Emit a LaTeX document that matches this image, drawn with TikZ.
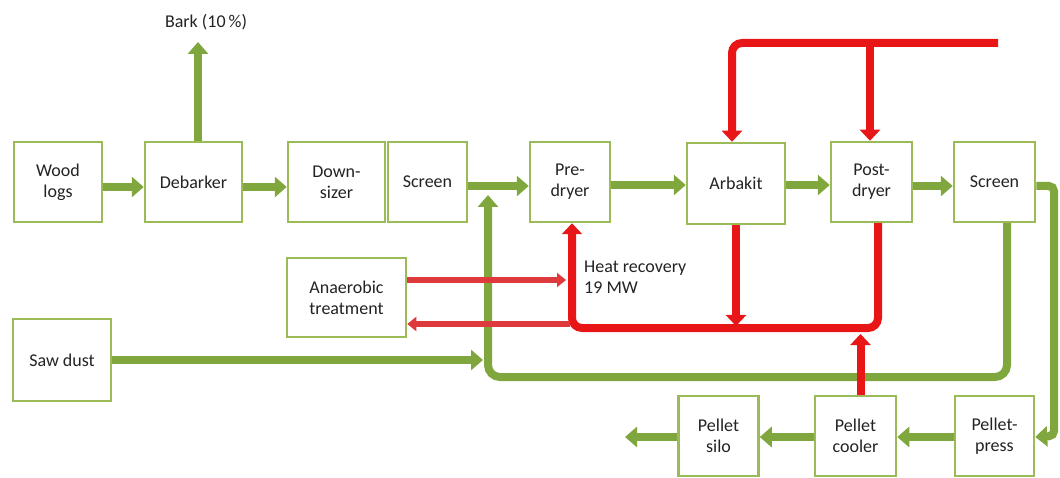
\documentclass[tikz,border=0pt]{standalone}
\usepackage{fontspec}
\setmainfont{Carlito}
\usetikzlibrary{arrows.meta}
\definecolor{boxgreen}{RGB}{155,187,89}
\definecolor{agreen}{RGB}{128,166,62}
\definecolor{hred}{RGB}{232,22,22}
\definecolor{lred}{RGB}{222,58,62}
\definecolor{txt}{RGB}{35,35,35}
\tikzset{
  box/.style={draw=boxgreen, line width=2.5pt, fill=white, align=center, text=txt,
    font=\fontsize{18pt}{21pt}\selectfont, inner sep=0pt},
  garrow/.style={draw=agreen, line width=8pt, -{Triangle[width=20pt,length=12pt]}},
  rarrow/.style={draw=hred, line width=8pt, -{Triangle[width=20pt,length=11pt]}},
  larrow/.style={draw=lred, line width=6pt, -{Triangle[width=14pt,length=9pt]}},
  lbl/.style={text=txt, font=\fontsize{18pt}{21pt}\selectfont, inner sep=0pt}
}
\begin{document}
\begin{tikzpicture}[x=1pt,y=-1pt]
\useasboundingbox (0,0) rectangle (1060,478);
% boxes
\node[box, minimum width=88pt, minimum height=80pt] (wood) at (58,182) {Wood\\logs};
\node[box, minimum width=97pt, minimum height=80pt] (debarker) at (193.5,182) {Debarker};
\node[box, minimum width=97pt, minimum height=80pt] (downsizer) at (336.5,182) {Down-\\sizer};
\node[box, minimum width=79pt, minimum height=80pt] (screen1) at (427.5,182) {Screen};
\node[box, minimum width=80pt, minimum height=80pt] (predryer) at (570,182) {Pre-\\dryer};
\node[box, minimum width=98pt, minimum height=81pt] (arbakit) at (736,183.5) {Arbakit};
\node[box, minimum width=81pt, minimum height=80pt] (postdryer) at (871.5,182) {Post-\\dryer};
\node[box, minimum width=81pt, minimum height=80pt] (screen2) at (994.5,182) {Screen};
\node[box, minimum width=119pt, minimum height=79pt] (anaerobic) at (346.5,297.5) {Anaerobic\\treatment};
\node[box, minimum width=98pt, minimum height=82pt] (sawdust) at (62,360) {Saw dust};
\node[box, minimum width=80pt, minimum height=80pt] (silo) at (718.5,436) {Pellet\\silo};
\node[box, minimum width=81pt, minimum height=80pt] (cooler) at (855.5,436) {Pellet\\cooler};
\node[box, minimum width=79pt, minimum height=80pt] (press) at (994.5,436) {Pellet-\\press};
% labels
\node[lbl] (bark) at (206,22) {Bark (10\,\%)};
\node[lbl, anchor=west, align=left] (heat) at (584,277) {Heat recovery\\19 MW};
% free-end coordinates
\coordinate (barktip) at (198,42);
\coordinate (gtip) at (488,195);
\coordinate (gb) at (0,377);
\coordinate (sdtip) at (483,360);
\coordinate (rc) at (1054,0);
\coordinate (out) at (625,437);
\coordinate (rtop) at (998,43);
\coordinate (rb) at (0,328);
\coordinate (arbtip) at (0,326);
\coordinate (cooltip) at (0,334);
\coordinate (hr1) at (566,280);
\coordinate (hr2) at (570,324);
% green flows
\draw[garrow] ([yshift=-5pt]wood.east) -- ([yshift=-5pt]debarker.west);
\draw[garrow] ([xshift=4.5pt]debarker.north) -- ([xshift=4.5pt]debarker.north |- barktip);
\draw[garrow] ([yshift=-5pt]debarker.east) -- ([yshift=-5pt]downsizer.west);
\draw[garrow] ([yshift=-4pt]screen1.east) -- ([yshift=-4pt]predryer.west);
\draw[garrow] ([yshift=-3pt]predryer.east) -- ([yshift=-1.5pt]arbakit.west);
\draw[garrow] ([yshift=-1.5pt]arbakit.east) -- ([yshift=-3pt]postdryer.west);
\draw[garrow] ([yshift=-4pt]postdryer.east) -- ([yshift=-4pt]screen2.west);
\draw[garrow, rounded corners=5pt] ([yshift=-4pt]screen2.east) -- ([yshift=-4pt]screen2.east -| rc) -- (press.east -| rc) -- ([yshift=-1pt]press.east);
\draw[garrow, rounded corners=12pt] ([xshift=12.5pt]screen2.south) -- ([xshift=12.5pt]screen2.south |- gb) -- (gtip |- gb) -- (gtip);
\draw[garrow] (sawdust.east) -- (sdtip);
\draw[garrow] ([yshift=-1pt]press.west) -- ([yshift=-1pt]cooler.east);
\draw[garrow] ([yshift=-1pt]cooler.west) -- ([yshift=-1pt]silo.east);
\draw[garrow] ([yshift=-1pt]silo.west) -- (out);
% red flows
\draw[rarrow, rounded corners=10pt] (rtop) -- ([xshift=-4pt]arbakit.north |- rtop) -- ([xshift=-4pt]arbakit.north);
\draw[rarrow] ([xshift=-1.5pt]postdryer.north |- rtop) -- ([xshift=-1.5pt]postdryer.north);
\draw[rarrow, rounded corners=10pt] ([xshift=6.5pt]postdryer.south) -- ([xshift=6.5pt]postdryer.south |- rb) -- ([xshift=2pt]predryer.south |- rb) -- ([xshift=2pt]predryer.south);
\draw[rarrow] (arbakit.south) -- (arbakit.south |- arbtip);
\draw[rarrow] ([xshift=5pt]cooler.north) -- ([xshift=5pt]cooler.north |- cooltip);
\draw[larrow] (anaerobic.east |- hr1) -- (hr1);
\draw[larrow] (hr2) -- (anaerobic.east |- hr2);
\end{tikzpicture}
\end{document}
